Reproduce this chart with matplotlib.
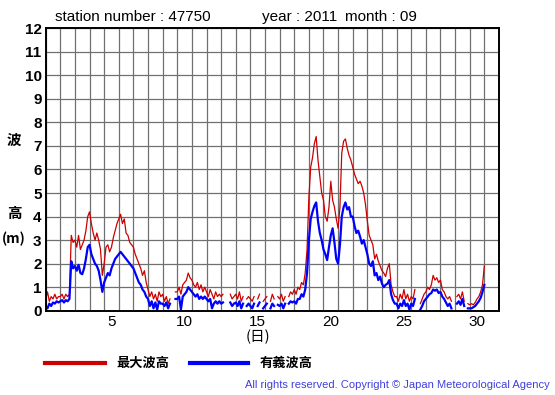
import numpy as np
import matplotlib
matplotlib.use("Agg")
import matplotlib.pyplot as plt

plt.rcParams['font.family'] = ['Liberation Sans', 'Noto Sans CJK JP']

nan = np.nan

# 3-hourly values (00,03,...,21) per day, 1 Sep 00:00 .. 31 00:00
max_wave = [
    0.5, 0.8, 0.4, 0.6, 0.5, 0.7, 0.5, 0.6,      # 1
    0.6, 0.7, 0.5, 0.7, 0.6, 0.7, 3.2, 2.9,      # 2
    3.0, 2.7, 3.2, 2.6, 2.8, 3.0, 3.4, 4.0,      # 3
    4.2, 3.7, 3.3, 3.0, 3.3, 3.0, 2.6, 1.5,      # 4
    2.0, 2.7, 2.8, 2.5, 2.7, 3.1, 3.4, 3.7,      # 5
    3.9, 4.1, 3.7, 3.9, 3.3, 3.2, 2.9, 2.8,      # 6
    2.7, 2.4, 2.2, 2.0, 1.8, 1.5, 1.7, 1.2,      # 7
    0.9, 0.6, 0.8, 0.5, 0.7, 0.4, 0.8, 0.6,      # 8
    0.7, 0.4, 0.6, 0.3, 0.5, nan, nan, 0.8,      # 9
    0.8, 1.0, 0.7, 1.1, 1.2, 1.3, 1.6, 1.4,      # 10
    1.3, 1.1, 1.0, 1.2, 0.9, 1.1, 0.8, 1.0,      # 11
    0.8, 0.6, 0.9, 0.7, 0.5, 0.8, 0.6, 0.7,      # 12
    0.6, 0.7, nan, 0.5, nan, 0.7, 0.5, 0.6,      # 13
    0.7, 0.5, 0.8, 0.4, 0.6, nan, 0.5, 0.6,      # 14
    0.5, 0.4, 0.6, nan, 0.5, 0.7, nan, 0.4,      # 15
    0.5, 0.6, nan, 0.4, 0.7, 0.5, nan, 0.6,      # 16
    0.5, 0.7, 0.4, 0.6, nan, 0.6, 0.8, 0.7,      # 17
    0.9, 0.7, 1.0, 0.9, 1.2, 1.1, 1.6, 2.6,      # 18
    4.8, 6.1, 6.5, 7.1, 7.4, 6.4, 5.7, 5.0,      # 19
    4.7, 4.0, 3.8, 4.4, 5.5, 4.7, 4.4, 3.9,      # 20
    3.5, 4.4, 6.7, 7.2, 7.3, 6.9, 6.6, 6.4,      # 21
    6.1, 5.8, 5.6, 5.4, 5.5, 5.3, 5.0, 4.5,      # 22
    3.8, 3.2, 3.0, 2.8, 2.2, 2.4, 2.1, 1.9,      # 23
    1.7, 1.6, 1.45, 1.8, 2.0, 1.1, 0.8, 0.6,     # 24
    0.6, 0.4, 0.7, 0.5, 0.9, 0.5, 0.7, 0.4,      # 25
    0.6, 0.5, 0.9, nan, nan, 0.3, 0.5, 0.7,      # 26
    0.8, 1.0, 0.9, 1.1, 1.5, 1.3, 1.4, 1.2,      # 27
    1.3, 0.9, 0.8, 0.6, 0.5, 0.6, 0.4, nan,      # 28
    nan, 0.6, 0.7, 0.5, 0.8, 0.4, nan, 0.3,      # 29
    0.25, 0.3, 0.25, 0.35, 0.5, 0.6, 0.8, 1.1,   # 30
    1.9,
]

sig_wave = [
    0.2, 0.1, 0.3, 0.2, 0.35, 0.3, 0.4, 0.35,
    0.4, 0.45, 0.35, 0.45, 0.4, 0.5, 2.1, 1.8,
    1.9, 1.7, 1.95, 1.6, 1.55, 1.8, 2.2, 2.7,
    2.8, 2.4, 2.2, 2.0, 1.9, 1.7, 1.3, 0.8,
    1.2, 1.4, 1.6, 1.5, 1.8, 2.0, 2.2, 2.3,
    2.4, 2.5, 2.4, 2.3, 2.2, 2.1, 2.0, 1.9,
    1.8, 1.6, 1.4, 1.2, 1.1, 0.9, 0.8, 0.6,
    0.5, 0.2, 0.4, 0.1, 0.35, 0.05, 0.4, 0.3,
    0.3, 0.2, 0.35, 0.1, 0.3, nan, nan, 0.5,
    0.5, 0.6, 0.05, 0.6, 0.7, 0.8, 1.0, 0.9,
    0.8, 0.7, 0.6, 0.7, 0.5, 0.6, 0.5, 0.6,
    0.5, 0.4, 0.5, 0.1, 0.3, 0.4, 0.3, 0.4,
    0.3, 0.35, nan, 0.2, nan, 0.35, 0.2, 0.3,
    0.35, 0.2, 0.4, 0.1, 0.3, nan, 0.2, 0.3,
    0.2, 0.1, 0.3, nan, 0.2, 0.35, nan, 0.1,
    0.2, 0.3, nan, 0.1, 0.3, 0.2, nan, 0.25,
    0.2, 0.3, 0.1, 0.3, nan, 0.3, 0.4, 0.35,
    0.4, 0.3, 0.5, 0.5, 0.7, 0.6, 0.9, 1.6,
    3.0, 3.9, 4.2, 4.45, 4.6, 3.8, 3.3, 3.0,
    2.6, 2.4, 2.15, 2.7, 3.2, 3.5, 2.9, 2.2,
    2.0, 2.8, 4.0, 4.4, 4.6, 4.3, 4.4, 4.0,
    4.0, 3.6, 3.3, 3.4, 3.15, 2.85, 3.0, 2.7,
    2.4, 2.0, 1.9, 2.1, 1.5, 1.6, 1.3, 1.45,
    1.15, 1.0, 1.1, 1.15, 1.3, 0.7, 0.45, 0.3,
    0.3, 0.1, 0.3, 0.2, 0.45, 0.2, 0.3, 0.05,
    0.3, 0.2, 0.5, nan, nan, 0.05, 0.2, 0.4,
    0.5, 0.6, 0.7, 0.75, 0.9, 0.85, 0.9, 0.75,
    0.8, 0.6, 0.5, 0.35, 0.2, 0.3, 0.1, nan,
    nan, 0.3, 0.4, 0.25, 0.5, 0.2, nan, 0.1,
    0.1, 0.1, 0.15, 0.2, 0.3, 0.4, 0.55, 0.8,
    1.1,
]

days = 1 + np.arange(len(max_wave)) / 8
day_labels = [5, 10, 15, 20, 25, 30]

fig = plt.figure(figsize=(5.55, 3.95), dpi=100)
ax = fig.add_axes([0.0823, 0.2134, 0.8167, 0.715])

ax.plot(days, max_wave, color='#cc0000', lw=0.9)
ax.plot(days, sig_wave, color='#0000ff', lw=1.6)

ax.set_xlim(1, 32)
ax.set_ylim(0, 12)
ax.set_xticks(np.arange(1, 33), minor=True)
ax.set_xticks([d + 0.5 for d in day_labels])
ax.set_xticklabels([str(d) for d in day_labels], fontsize=11)
ax.set_yticks(np.arange(0, 13))
ax.set_yticklabels([str(v) for v in range(13)], fontsize=11, fontweight='bold')
ax.grid(which='minor', axis='x', color='#707070', lw=0.9)
ax.grid(which='major', axis='y', color='#707070', lw=0.9)
ax.tick_params(which='both', length=0, pad=3)
for s in ax.spines.values():
    s.set_linewidth(1.4)

fig.text(55 / 555, 1 - 17 / 395, 'station number : 47750', fontsize=11, va='center')
fig.text(262 / 555, 1 - 17 / 395, 'year : 2011', fontsize=11, va='center')
fig.text(345 / 555, 1 - 17 / 395, 'month : 09', fontsize=11, va='center')

cjk = ['Noto Sans CJK JP', 'DejaVu Sans']
fig.text(14 / 555, 1 - 140 / 395, '波', family=cjk, fontsize=10.5,
         fontweight='bold', ha='center', va='center')
fig.text(14 / 555, 1 - 213 / 395, '高', family=cjk, fontsize=10.5,
         fontweight='bold', ha='center', va='center')
fig.text(14 / 555, 1 - 239 / 395, '(m)', family=cjk, fontsize=10,
         fontweight='bold', ha='center', va='center')
fig.text(258 / 555, 1 - 337 / 395, '(日)', family=cjk, fontsize=10.5,
         ha='center', va='center')

fig.add_artist(plt.Line2D([45 / 555, 105 / 555], [1 - 363 / 395] * 2,
                          color='#cc0000', lw=3))
fig.text(116 / 555, 1 - 363 / 395, '最大波高', family=cjk, fontsize=9.5,
         fontweight='bold', va='center')
fig.add_artist(plt.Line2D([190 / 555, 248 / 555], [1 - 363 / 395] * 2,
                          color='#0000ff', lw=3))
fig.text(260 / 555, 1 - 363 / 395, '有義波高', family=cjk, fontsize=9.5,
         fontweight='bold', va='center')

fig.text(550 / 555, 1 - 385 / 395,
         'All rights reserved. Copyright \u00a9 Japan Meteorological Agency',
         fontsize=8, color='#4040dd', ha='right', va='center')

fig.savefig('out.png', dpi=100)
